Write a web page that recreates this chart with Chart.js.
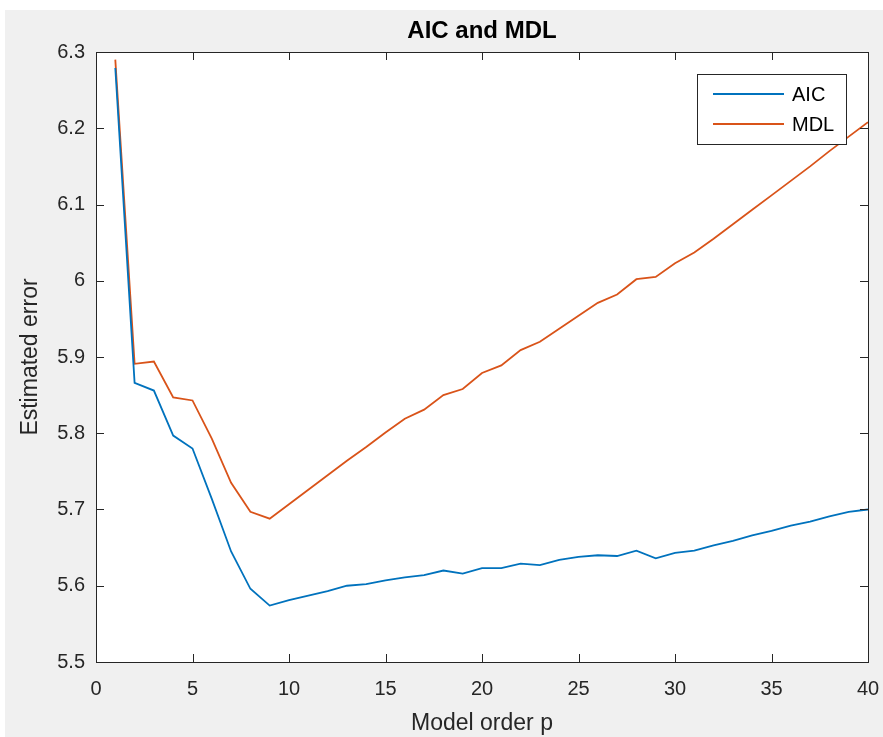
<!DOCTYPE html>
<html>
<head>
<meta charset="utf-8">
<title>AIC and MDL</title>
<script src="https://cdn.jsdelivr.net/npm/chart.js@4.4.1/dist/chart.umd.min.js"></script>
<style>
  html, body { margin: 0; padding: 0; background: #ffffff; overflow: hidden; }
  #plot { display: block; }
</style>
</head>
<body>
<canvas id="plot" width="883" height="737"></canvas>
<script>
// model orders and criterion values
const orders = [1, 2, 3, 4, 5, 6, 7, 8, 9, 10, 11, 12, 13, 14, 15, 16, 17, 18, 19, 20,
                21, 22, 23, 24, 25, 26, 27, 28, 29, 30, 31, 32, 33, 34, 35, 36, 37, 38, 39, 40];

const aic = [6.279, 5.866, 5.856, 5.797, 5.780, 5.714, 5.645, 5.596, 5.574, 5.581,
             5.587, 5.593, 5.600, 5.602, 5.607, 5.611, 5.614, 5.620, 5.616, 5.623,
             5.623, 5.629, 5.627, 5.634, 5.638, 5.640, 5.639, 5.646, 5.636, 5.643,
             5.646, 5.653, 5.659, 5.666, 5.672, 5.679, 5.684, 5.691, 5.697, 5.700];

const mdl = [6.290, 5.891, 5.894, 5.847, 5.843, 5.793, 5.735, 5.697, 5.688, 5.707,
             5.726, 5.745, 5.764, 5.782, 5.801, 5.819, 5.831, 5.850, 5.858, 5.879,
             5.889, 5.909, 5.920, 5.937, 5.954, 5.971, 5.982, 6.002, 6.005, 6.023,
             6.037, 6.055, 6.074, 6.093, 6.112, 6.131, 6.150, 6.170, 6.189, 6.208];

const xTicks = [0, 5, 10, 15, 20, 25, 30, 35, 40];
const yTicks = [5.5, 5.6, 5.7, 5.8, 5.9, 6, 6.1, 6.2, 6.3];

const FONT = "'Liberation Sans', Arial, Helvetica, sans-serif";
const AXIS_COLOR = '#262626';
const TICK_LEN = 8;

// grey figure background with a thin white margin on top and left
const figureBackground = {
  id: 'figureBackground',
  beforeDraw(chart) {
    const ctx = chart.ctx;
    ctx.save();
    ctx.fillStyle = '#ffffff';
    ctx.fillRect(0, 0, chart.width, chart.height);
    ctx.fillStyle = '#f0f0f0';
    ctx.fillRect(5, 10, chart.width - 5, chart.height - 10);
    const a = chart.chartArea;
    ctx.fillStyle = '#ffffff';
    ctx.fillRect(a.left, a.top, a.right - a.left, a.bottom - a.top);
    ctx.restore();
  }
};

// axes box with tick marks pointing inward on all four sides
const axesBox = {
  id: 'axesBox',
  afterDatasetsDraw(chart) {
    const ctx = chart.ctx;
    const a = chart.chartArea;
    const xs = chart.scales.x, ys = chart.scales.y;
    ctx.save();
    ctx.strokeStyle = AXIS_COLOR;
    ctx.lineWidth = 1;
    ctx.beginPath();
    xTicks.forEach(v => {
      const px = Math.round(xs.getPixelForValue(v)) + 0.5;
      ctx.moveTo(px, a.bottom);
      ctx.lineTo(px, a.bottom - TICK_LEN);
      ctx.moveTo(px, a.top);
      ctx.lineTo(px, a.top + TICK_LEN);
    });
    yTicks.forEach(v => {
      const py = Math.round(ys.getPixelForValue(v)) + 0.5;
      ctx.moveTo(a.left, py);
      ctx.lineTo(a.left + TICK_LEN, py);
      ctx.moveTo(a.right, py);
      ctx.lineTo(a.right - TICK_LEN, py);
    });
    ctx.stroke();
    ctx.strokeRect(Math.round(a.left) + 0.5, Math.round(a.top) + 0.5,
                   Math.round(a.right - a.left), Math.round(a.bottom - a.top));
    ctx.restore();
  }
};

// boxed legend in the upper right corner of the axes
const boxLegend = {
  id: 'boxLegend',
  afterDraw(chart) {
    const ctx = chart.ctx;
    const a = chart.chartArea;
    const w = 149, h = 70;
    const x0 = a.right - 22 - w, y0 = a.top + 22;
    ctx.save();
    ctx.fillStyle = '#ffffff';
    ctx.fillRect(x0, y0, w, h);
    ctx.strokeStyle = AXIS_COLOR;
    ctx.lineWidth = 1;
    ctx.strokeRect(Math.round(x0) + 0.5, Math.round(y0) + 0.5, w, h);
    ctx.font = '20px ' + FONT;
    ctx.textBaseline = 'middle';
    ctx.textAlign = 'left';
    chart.data.datasets.forEach((ds, i) => {
      const y = y0 + 20 + i * 30;
      ctx.strokeStyle = ds.borderColor;
      ctx.lineWidth = 1.8;
      ctx.beginPath();
      ctx.moveTo(x0 + 16, y);
      ctx.lineTo(x0 + 87, y);
      ctx.stroke();
      ctx.fillStyle = '#000000';
      ctx.fillText(ds.label, x0 + 95, y + 1);
    });
    ctx.restore();
  }
};

const toPoints = vals => orders.map((p, i) => ({ x: p, y: vals[i] }));

const chart = new Chart(document.getElementById('plot'), {
  type: 'line',
  data: {
    datasets: [
      {
        label: 'AIC',
        data: toPoints(aic),
        borderColor: '#0072BD',
        borderWidth: 1.8,
        pointRadius: 0,
        tension: 0,
        fill: false
      },
      {
        label: 'MDL',
        data: toPoints(mdl),
        borderColor: '#D95319',
        borderWidth: 1.8,
        pointRadius: 0,
        tension: 0,
        fill: false
      }
    ]
  },
  options: {
    responsive: false,
    animation: false,
    layout: { padding: { top: 0, left: 0, right: 15, bottom: 0 } },
    plugins: {
      legend: { display: false },
      tooltip: { enabled: false },
      title: {
        display: true,
        text: 'AIC and MDL',
        fullSize: false,
        color: '#000000',
        font: { family: FONT, size: 24, weight: 'bold' },
        padding: { top: 17, bottom: 6.2 }
      }
    },
    scales: {
      x: {
        type: 'linear',
        min: 0,
        max: 40,
        afterBuildTicks: s => { s.ticks = xTicks.map(v => ({ value: v })); },
        afterFit: s => {
          s.height = 75;
          // keep the end labels from shrinking the plot box
          s.paddingLeft = 0;
          s.paddingRight = 0;
        },
        grid: { display: false, drawTicks: false },
        border: { display: false },
        ticks: {
          color: AXIS_COLOR,
          padding: 15,
          maxRotation: 0,
          font: { family: FONT, size: 20 },
          callback: v => String(v)
        },
        title: {
          display: true,
          text: 'Model order p',
          color: AXIS_COLOR,
          font: { family: FONT, size: 23 },
          padding: { top: 0, bottom: 0 }
        }
      },
      y: {
        min: 5.5,
        max: 6.3,
        afterBuildTicks: s => { s.ticks = yTicks.map(v => ({ value: v })); },
        afterFit: s => {
          s.width = 96;
          s.paddingTop = 0;
          s.paddingBottom = 0;
        },
        grid: { display: false, drawTicks: false },
        border: { display: false },
        ticks: {
          color: AXIS_COLOR,
          padding: 11,
          font: { family: FONT, size: 20 },
          callback: v => String(+v.toFixed(1))
        },
        title: {
          display: true,
          text: 'Estimated error',
          color: AXIS_COLOR,
          font: { family: FONT, size: 23 },
          padding: { top: 17, bottom: 0 }
        }
      }
    }
  },
  plugins: [figureBackground, axesBox, boxLegend]
});
</script>
</body>
</html>
